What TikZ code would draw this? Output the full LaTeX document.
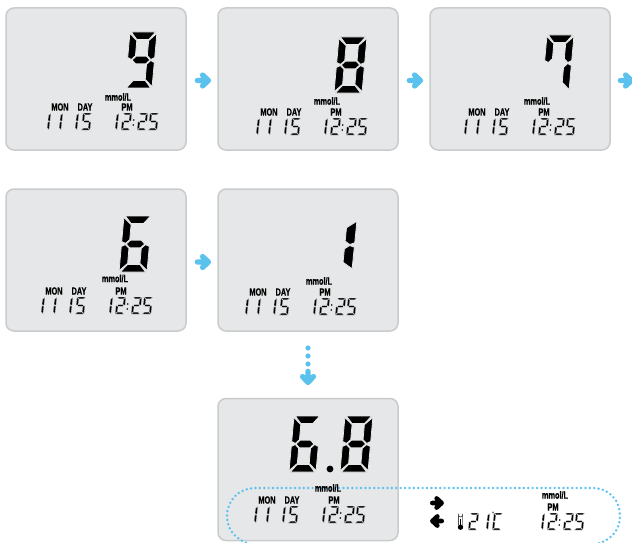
\documentclass[tikz,border=0pt]{standalone}
\usepackage{fontspec}
\setmainfont{Liberation Sans}
\newfontfamily\lcdlabelfont[FakeStretch=0.7,FakeBold=0.6]{Liberation Sans Bold}
\definecolor{panelfill}{HTML}{E6E7E8}
\definecolor{paneledge}{HTML}{C9CBCC}
\definecolor{flowblue}{HTML}{5BC2EE}
% segment outlines in a unit cell: u 0..1, v 0..2; \tu and \tv are the stroke thickness
\def\sega{(0.05,2)--(0.95,2)--(1-\tu,2-\tv)--(\tu,2-\tv)--cycle}
\def\segb{(1,1.95)--(1,1.09)--(1-\tu/2,1.02)--(1-\tu,1.02+\tv/2)--(1-\tu,1.96-\tv)--cycle}
\def\segc{(1,0.91)--(1,0.05)--(1-\tu,0.04+\tv)--(1-\tu,0.98-\tv/2)--(1-\tu/2,0.98)--cycle}
\def\segd{(0.05,0)--(0.95,0)--(1-\tu,\tv)--(\tu,\tv)--cycle}
\def\sege{(0,0.91)--(0,0.05)--(\tu,0.04+\tv)--(\tu,0.98-\tv/2)--(\tu/2,0.98)--cycle}
\def\segf{(0,1.95)--(0,1.09)--(\tu/2,1.02)--(\tu,1.02+\tv/2)--(\tu,1.96-\tv)--cycle}
\def\segg{(\tu/2+0.03,1)--(\tu+0.03,1+\tv/2)--(0.97-\tu,1+\tv/2)--(0.97-\tu/2,1)--(0.97-\tu,1-\tv/2)--(\tu+0.03,1-\tv/2)--cycle}
\expandafter\def\csname dmap1\endcsname{b,c}
\expandafter\def\csname dmap2\endcsname{a,b,g,e,d}
\expandafter\def\csname dmap5\endcsname{a,f,g,c,d}
\expandafter\def\csname dmap6\endcsname{a,f,g,e,c,d}
\expandafter\def\csname dmap7\endcsname{a,f,b,c}
\expandafter\def\csname dmap8\endcsname{a,b,c,d,e,f,g}
\expandafter\def\csname dmap9\endcsname{a,b,c,d,f,g}
\expandafter\def\csname dmapC\endcsname{a,f,e,d}
\def\gapcol{panelfill}
\def\gapw{0.7pt}
% \lcd{x}{y}{w}{h}{slant per v}{char}
\newcommand{\lcd}[6]{%
  \begin{scope}[shift={(#1,#2)},x={(#3pt,0pt)},y={(#5pt,#4pt/2)}]
    \edef\dmapcur{\csname dmap#6\endcsname}%
    \foreach \s in \dmapcur {%
      \expandafter\let\expandafter\segcur\csname seg\s\endcsname
      \filldraw[fill=black,draw=\gapcol,line width=\gapw] \segcur;%
    }%
  \end{scope}}
\newcommand{\sd}[3]{\def\tu{0.24}\def\tv{0.22}\def\gapw{0.25pt}\lcd{#1}{#2}{9}{17}{1}{#3}}
\newcommand{\bd}[4]{\def\tu{0.28}\def\tv{0.27}\def\gapw{0.8pt}\lcd{#1}{#2}{#3}{56}{2.5}{#4}}
\newcommand{\dateread}[3]{%
  \begin{scope}[shift={(#2,#3)}]
    \node[lcdlabel] (#1mon) at (60,107) {MON};
    \node[lcdlabel] (#1day) at (85,107) {DAY};
    \sd{40}{130}{1}\sd{52}{130}{1}\sd{68}{130}{1}\sd{81}{130}{5}
    \node[lcdtext,font=\fontsize{16}{16}\selectfont] (#1date) at (66,122) {1115};
  \end{scope}}
\newcommand{\timeread}[3]{%
  \begin{scope}[shift={(#2,#3)}]
    \node[lcdlabel] (#1pm) at (127,107) {PM};
    \sd{108}{130}{1}\sd{121}{130}{2}\sd{137}{130}{2}\sd{148}{130}{5}
    \fill (133.8,120) circle (0.9) (133.2,125) circle (0.9);
    \node[lcdtext,font=\fontsize{16}{16}\selectfont] (#1time) at (134,122) {12:25};
  \end{scope}}
\newcommand{\panel}[3]{\node[panelbox] (#1) at (#2,#3) {};}
\newcommand{\bigdigit}[5]{% name x y w char
  \bd{#2}{#3}{#4}{#5}
  \node[lcdtext,font=\fontsize{50}{50}\selectfont] (#1) at (#2+16,#3-30) {#5};}
\newcommand{\blockarrow}[5]{% x y angle scale colour
  \begin{scope}[shift={(#1,#2)},rotate=#3,scale=#4]
    \draw[#5,line width=#4*5.4pt,line cap=round,line join=round]
      (-5.6,0) -- (5.4,0) (-0.4,-5.4) -- (5.4,0) -- (-0.4,5.4);
  \end{scope}}
\tikzset{
  panelbox/.style={draw=paneledge,fill=panelfill,line width=1.5pt,rounded corners=8pt,
    minimum width=180pt,minimum height=142pt,inner sep=0pt},
  lcdlabel/.style={inner sep=0pt,text=black,font=\lcdlabelfont\fontsize{10.5}{10.5}\selectfont},
  lcdtext/.style={inner sep=0pt,text opacity=0},
  dotline/.style={draw=flowblue,line width=2.7pt,line cap=round,dash pattern=on 0pt off 4.4pt}
}
\begin{document}
\begin{tikzpicture}[x=1pt,y=-1pt]
\useasboundingbox (0,0) rectangle (632,543);
\clip (0,0) rectangle (632,543);
\panel{p1}{96}{79}
\panel{p2}{308}{79}
\panel{p3}{520}{79}
\panel{p4}{96}{260}
\panel{p5}{308}{260}
\panel{p6}{308}{469.5}
% big digits
\bigdigit{n1}{125}{88}{27}{9}
\bigdigit{n2}{334}{93}{28}{8}
\bigdigit{n3}{542}{91}{27}{7}
\bigdigit{n4}{119}{272}{28}{6}
\def\tu{0.27}\def\tv{0.27}\def\gapw{0.8pt}\lcd{316}{270}{36}{50}{2.5}{1}
\node[lcdtext,font=\fontsize{50}{50}\selectfont] (n5) at (350,243) {1};
\bd{289}{472}{27}{6}
\bd{340}{472}{28}{8}
\fill[black] (330,469) circle (3.4);
\node[lcdtext,font=\fontsize{50}{50}\selectfont] (n6) at (331,442) {6.8};
% readouts
\dateread{a}{0}{0}\timeread{a}{0}{0}
\dateread{b}{209}{5}\timeread{b}{209}{5}
\dateread{c}{417}{5}\timeread{c}{417}{5}
\dateread{d}{-6}{184}\timeread{d}{-6}{184}
\dateread{e}{198}{185}\timeread{e}{198}{185}
\dateread{f}{207}{393}\timeread{f}{207}{393}
% flow arrows
\blockarrow{203}{80.5}{0}{1}{flowblue}
\blockarrow{415}{80.5}{0}{1}{flowblue}
\blockarrow{626}{80.5}{0}{1}{flowblue}
\blockarrow{203}{262}{0}{1}{flowblue}
\blockarrow{308}{377}{-90}{1}{flowblue}
\foreach \yy in {348,356,364} \fill[flowblue] (308,\yy) circle (2.6);
% dotted loop
\coordinate (loopbl) at (250,544);
\coordinate (loopbr) at (597,544);
\draw[dotline] (loopbl) .. controls (236,540) and (227,530) .. (227,516)
  .. controls (227,501) and (238,488) .. (256,488) -- (592,488)
  .. controls (610,488) and (620,501) .. (620,516)
  .. controls (620,530) and (611,540) .. (loopbr);
% unit labels over the loop
\node[lcdlabel] (aunit) at (118,97) {mmol/L};
\node[lcdlabel] (bunit) at (327,101) {mmol/L};
\node[lcdlabel] (cunit) at (537,101) {mmol/L};
\node[lcdlabel] (dunit) at (115,278.5) {mmol/L};
\node[lcdlabel] (eunit) at (319,281) {mmol/L};
\node[lcdlabel] (funit) at (328,488) {mmol/L};
% right hand screen
\def\gapcol{white}
\blockarrow{437}{503}{0}{0.85}{black}
\blockarrow{437}{521}{180}{0.85}{black}
\node[lcdlabel] (gunit) at (555,495) {mmol/L};
\timeread{g}{426}{400}
\draw[black!70,line width=0.7pt] (458.4,525) -- (458.4,514.8) arc (180:0:2.1) -- (462.6,525);
\fill[black] (459.7,519) rectangle (461.3,526);
\fill[black] (460.5,527.2) circle (2.7);
\sd{468}{530}{2}\sd{479}{530}{1}\sd{492}{530}{C}
\draw[black!60,line width=0.4pt] (493,512.5) circle (0.9);
\node[lcdtext,font=\fontsize{16}{16}\selectfont] (gtemp) at (486,522) {21C};
\end{tikzpicture}
\end{document}
